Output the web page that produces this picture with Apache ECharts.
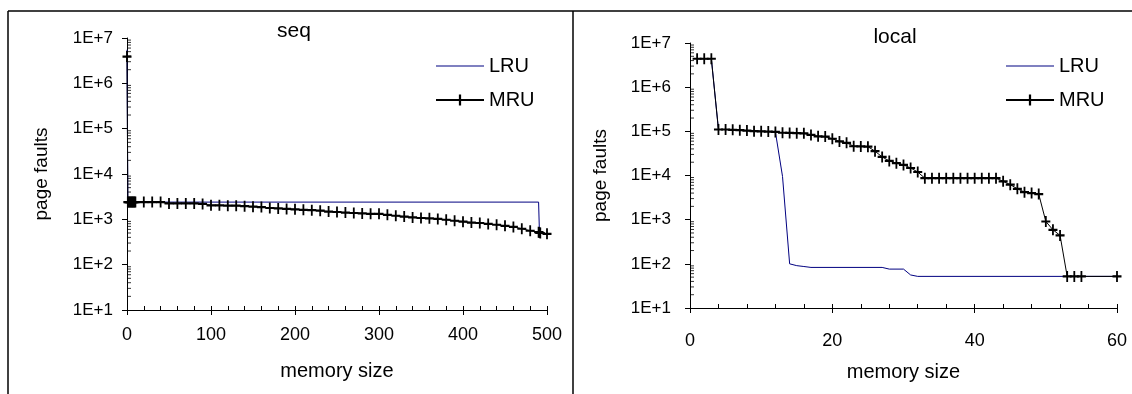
<!DOCTYPE html>
<html>
<head>
<meta charset="utf-8">
<script src="https://cdn.jsdelivr.net/npm/echarts@6/dist/echarts.min.js"></script>
<style>
  html, body { margin: 0; padding: 0; background: #fff; }
  #chart { width: 1132px; height: 394px; }
</style>
</head>
<body>
<div id="chart"></div>
<script>
// seq panel
const seqLruX = [0, 1, 490, 491];
const seqLruY = [5500000, 2400, 2400, 500];
const seqMruX = [0, 1, 2, 3, 4, 5, 6, 7, 8, 9, 10,
  20, 30, 40, 50, 60, 70, 80, 90,
  100, 110, 120, 130, 140, 150, 160, 170, 180, 190,
  200, 210, 220, 230, 240, 250, 260, 270, 280, 290,
  300, 310, 320, 330, 340, 350, 360, 370, 380, 390,
  400, 410, 420, 430, 440, 450, 460, 470, 480, 490,
  491, 492, 500];
const seqMruY = [3900000,
  2400, 2400, 2400, 2400, 2400, 2400, 2400, 2400, 2400, 2400,
  2400, 2400, 2400, 2240, 2240, 2240, 2240, 2190,
  2040, 2040, 2000, 2000, 1950, 1900, 1860, 1780, 1740, 1700,
  1660, 1620, 1590, 1550, 1480, 1450, 1410, 1380, 1350, 1320,
  1320, 1260, 1200, 1150, 1100, 1070, 1050, 1020, 980, 930,
  890, 850, 830, 790, 760, 720, 680, 620, 560, 520,
  510, 500, 480];

// local panel
const localLruX = [1, 2, 3, 4, 5, 6, 7, 8, 9, 10, 11, 12, 13, 14, 15, 16, 17, 27, 28, 30, 31, 32, 60];
const localLruY = [4400000, 4400000, 4400000, 110000, 110000, 108000, 106000, 104000, 101000,
  100000, 99000, 97000, 9500, 100, 91, 87, 83, 83, 76, 76, 56, 52, 52];
const localMruX = [1, 2, 3, 4, 5, 6, 7, 8, 9, 10, 11, 12, 13, 14, 15, 16, 17, 18, 19, 20,
  21, 22, 23, 24, 25, 26, 27, 28, 29, 30, 31, 32, 33, 34, 35, 36, 37, 38, 39, 40,
  41, 42, 43, 44, 45, 46, 47, 48, 49, 50, 51, 52, 53, 54, 55, 60];
const localMruY = [4400000, 4400000, 4400000,
  110000, 110000, 108000, 106000, 104000, 101000, 100000, 99000, 97000, 93000, 92000, 91000, 90000,
  83000, 77000, 76000, 68000, 59000, 55000, 46000, 45500, 45000, 35500,
  26300, 21400, 19000, 17400, 14800, 12000, 8700,
  8700, 8700, 8700, 8700, 8700, 8700, 8700, 8700, 8700, 8700,
  7400, 6200, 5000, 4200, 4000, 3800,
  910, 590, 440, 52, 52, 52,
  52];

const yTickLabels = ['1E+1', '1E+2', '1E+3', '1E+4', '1E+5', '1E+6', '1E+7'];
const yDecades = [10, 100, 1000, 10000, 100000, 1000000];
const yMinorSteps = [2, 3, 4, 5, 6, 7, 8, 9];
const titles = ['seq', 'local'];
const seriesNames = ['LRU', 'MRU'];

const FONT = '"Liberation Sans", Arial, sans-serif';
const PLUS = 'path://M4,0H6V4H10V6H6V10H4V6H0V4H4Z';

const zip = (xs, ys) => xs.map((x, i) => [x, ys[i]]);

const chart = echarts.init(document.getElementById('chart'), null, { renderer: 'canvas' });

const grids = [
  { left: 127, top: 38, width: 420, height: 272 },
  { left: 690, top: 43, width: 427, height: 265 }
];
const xRanges = [{ max: 500, major: 100, minor: 20 }, { max: 60, major: 20, minor: 4 }];
const yNameGaps = [76, 80];
const yLabelMargins = [14, 19];
const xLabelMargins = [16, 24];
const xNameGaps = [51, 54];

const xAxes = [];
const yAxes = [];
[0, 1].forEach(g => {
  xAxes.push({
    gridIndex: g, type: 'value', min: 0, max: xRanges[g].max, interval: xRanges[g].major,
    axisLine: { lineStyle: { color: '#000', width: 1 } },
    axisTick: { length: 5, lineStyle: { color: '#000' } },
    axisLabel: { color: '#000', fontSize: 18, fontFamily: FONT, margin: xLabelMargins[g] },
    splitLine: { show: false },
    name: 'memory size', nameLocation: 'middle', nameGap: xNameGaps[g],
    nameTextStyle: { color: '#000', fontSize: 20, fontFamily: FONT }
  });
  xAxes.push({
    gridIndex: g, type: 'value', min: 0, max: xRanges[g].max, interval: xRanges[g].minor,
    position: 'bottom', offset: 0,
    axisLine: { show: false },
    axisTick: { inside: true, length: 4, lineStyle: { color: '#000' } },
    axisLabel: { show: false },
    splitLine: { show: false }
  });
  yAxes.push({
    gridIndex: g, type: 'log', logBase: 10, min: 10, max: 10000000, position: 'left',
    axisLine: { show: true, lineStyle: { color: '#000', width: 1 } },
    axisTick: { show: true, length: 5, lineStyle: { color: '#000' } },
    axisLabel: {
      color: '#000', fontSize: 17, fontFamily: FONT, margin: yLabelMargins[g],
      formatter: v => yTickLabels[Math.round(Math.log10(v)) - 1]
    },
    splitLine: { show: false },
    name: 'page faults', nameLocation: 'middle', nameGap: yNameGaps[g],
    nameTextStyle: { color: '#000', fontSize: 19, fontFamily: FONT }
  });
});

// minor tick marks on the log y axes (2..9 x each decade), drawn inside the plot
const minorTickData = [];
yDecades.forEach(d => yMinorSteps.forEach(k => minorTickData.push([0, k * d])));

const lruStyle = { color: '#000080', width: 1 };
const mruStyle = { color: '#000', width: 1 };
function lru(name, idx, data) {
  return {
    name, type: 'line', xAxisIndex: idx * 2, yAxisIndex: idx, data,
    symbol: 'none', lineStyle: lruStyle, itemStyle: { color: '#000080' },
    emphasis: { disabled: true }, z: 2
  };
}
function mru(name, idx, data) {
  return {
    name, type: 'line', xAxisIndex: idx * 2, yAxisIndex: idx, data,
    symbol: PLUS, symbolSize: [9, 11], showSymbol: true,
    lineStyle: mruStyle, itemStyle: { color: '#000' },
    emphasis: { disabled: true }, z: 3
  };
}
function minorTicks(idx) {
  return {
    name: 'minor' + idx, type: 'scatter', xAxisIndex: idx * 2, yAxisIndex: idx,
    data: minorTickData, symbol: 'rect', symbolSize: [4, 1], symbolOffset: [2, 0],
    itemStyle: { color: '#000' }, silent: true, clip: false, z: 1,
    emphasis: { disabled: true }
  };
}

const legendBase = {
  orient: 'vertical', top: 56, padding: 0, itemWidth: 48, itemHeight: 14, itemGap: 14,
  data: [
    { name: seriesNames[0], itemStyle: { color: 'rgba(0,0,0,0)', borderWidth: 0 },
      lineStyle: { color: '#7f80c0', width: 2 } },
    { name: seriesNames[1] }
  ],
  selectedMode: false,
  textStyle: { color: '#000', fontSize: 20, fontFamily: FONT }
};

const option = {
  animation: false,
  textStyle: { fontFamily: FONT },
  grid: grids,
  xAxis: xAxes,
  yAxis: yAxes,
  legend: [
    Object.assign({}, legendBase, { left: 435 }),
    Object.assign({}, legendBase, { left: 1005 })
  ],
  series: [
    minorTicks(0),
    minorTicks(1),
    lru(seriesNames[0], 0, zip(seqLruX, seqLruY)),
    mru(seriesNames[1], 0, zip(seqMruX, seqMruY)),
    lru(seriesNames[0], 1, zip(localLruX, localLruY)),
    mru(seriesNames[1], 1, zip(localMruX, localMruY))
  ],
  graphic: [
    { type: 'line', shape: { x1: 8, y1: 11, x2: 1132, y2: 11 }, style: { stroke: '#000', lineWidth: 1.5 } },
    { type: 'line', shape: { x1: 8, y1: 11, x2: 8, y2: 394 }, style: { stroke: '#000', lineWidth: 1.5 } },
    { type: 'line', shape: { x1: 573, y1: 11, x2: 573, y2: 394 }, style: { stroke: '#000', lineWidth: 1.5 } },
    { type: 'text', x: 294, y: 31, style: { text: titles[0], fill: '#000', fontSize: 21, fontFamily: FONT, align: 'center', verticalAlign: 'middle' } },
    { type: 'text', x: 895, y: 37, style: { text: titles[1], fill: '#000', fontSize: 21, fontFamily: FONT, align: 'center', verticalAlign: 'middle' } }
  ]
};

chart.setOption(option);
</script>
</body>
</html>
